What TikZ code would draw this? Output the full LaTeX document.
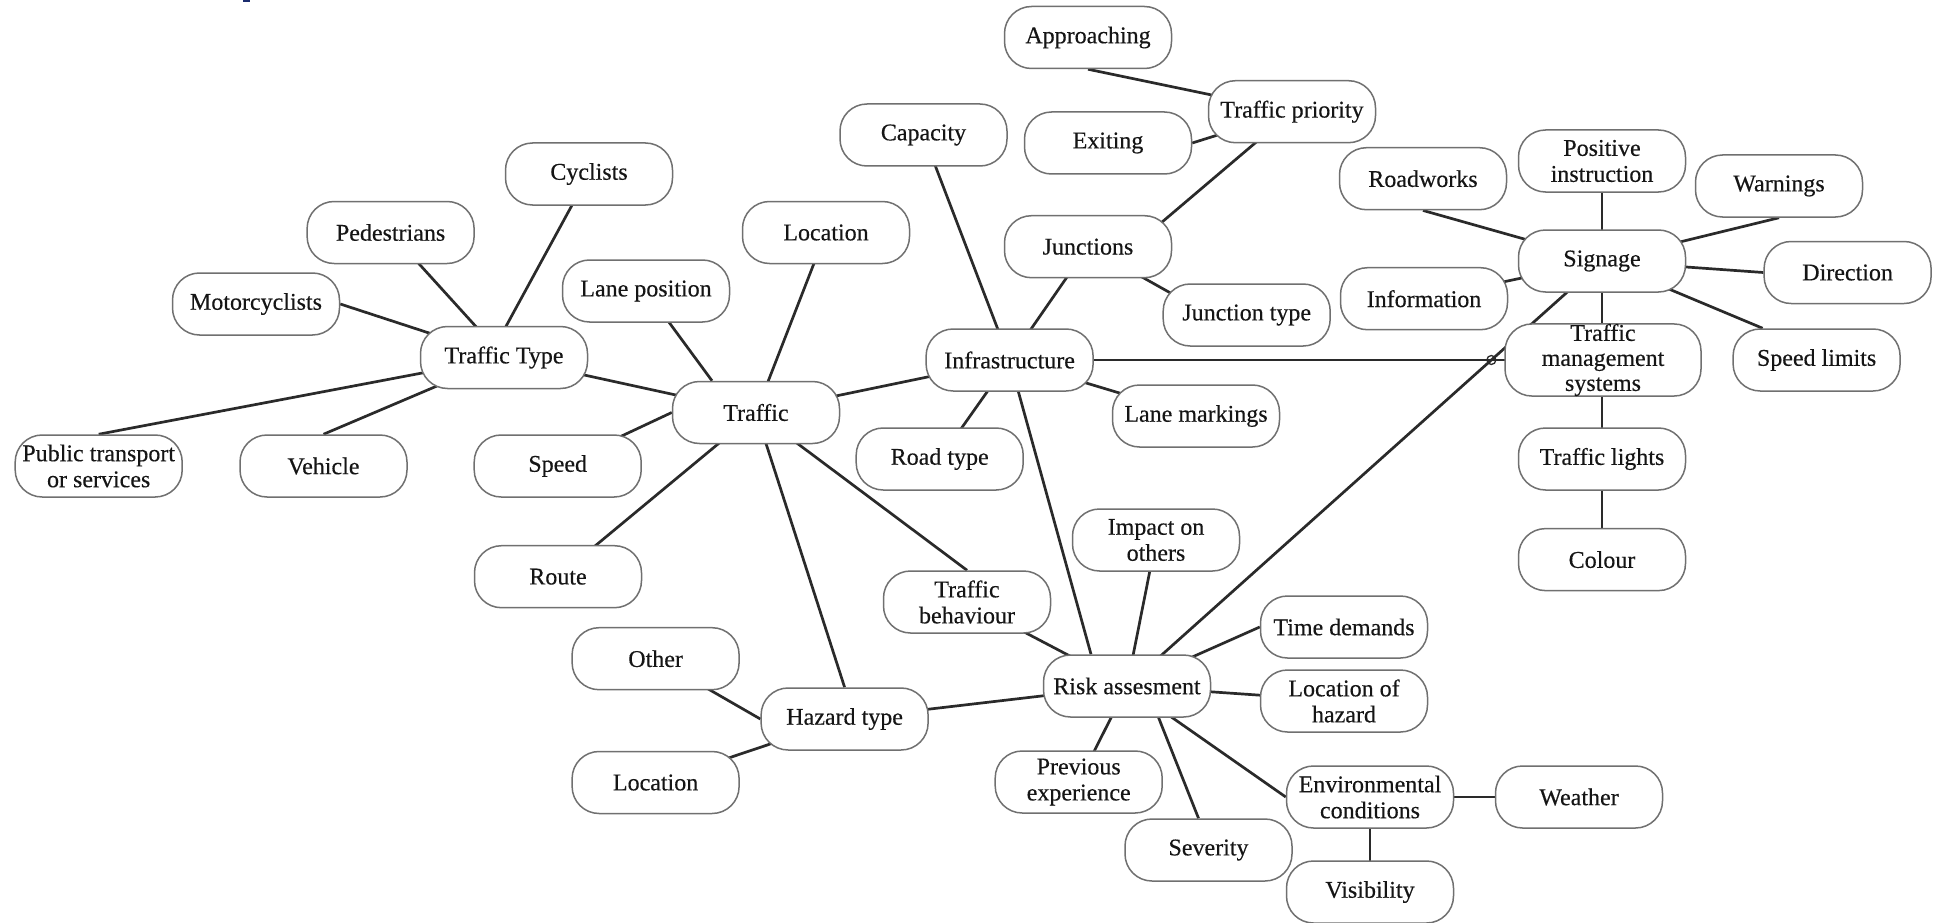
\documentclass[tikz,border=0pt]{standalone}
\usepackage{fontspec}
\setmainfont{Liberation Serif}[FakeBold=0.35]
\usetikzlibrary{intersections}
\pgfdeclarelayer{bg}
\pgfsetlayers{bg,main}
\definecolor{edgecol}{HTML}{2A2A2A}
\definecolor{boxcol}{HTML}{707070}
\definecolor{txtcol}{HTML}{151515}
\definecolor{navyfrag}{HTML}{1B2C6E}
\begin{document}
\begin{tikzpicture}[x=1pt,y=-1pt,
 bub/.style={draw=boxcol,line width=1.5pt,fill=white,rounded corners=27pt,minimum width=167pt,minimum height=62pt,inner sep=0pt,align=center,text=txtcol,font=\fontsize{24}{26}\selectfont},
 link/.style={draw=edgecol,line width=2.7pt}]
\useasboundingbox (0,0) rectangle (1936,923);

% nodes
\node[bub] (appr) at (1088,37.5) {Approaching};
\node[bub] (tp) at (1292,111.7) {Traffic priority};
\node[bub] (exit) at (1108,143) {Exiting};
\node[bub] (cap) at (923.5,135) {Capacity};
\node[bub] (cyc) at (589,174) {Cyclists};
\node[bub] (rw) at (1423,178.7) {Roadworks};
\node[bub] (pos) at (1602,161) {Positive\\instruction};
\node[bub] (warn) at (1779,186) {Warnings};
\node[bub] (ped) at (390.6,232.5) {Pedestrians};
\node[bub] (loca) at (826,232.5) {Location};
\node[bub] (junc) at (1088,246.7) {Junctions};
\node[bub] (sig) at (1602,261) {Signage};
\node[bub] (dir) at (1847.6,272.5) {Direction};
\node[bub] (lanepos) at (646,291) {Lane position};
\node[bub] (mc) at (256,304) {Motorcyclists};
\node[bub] (info) at (1424,298.7) {Information};
\node[bub] (jt) at (1246.7,315) {Junction type};
\node[bub] (tt) at (504,357.5) {Traffic Type};
\node[bub] (infra) at (1009.6,360) {Infrastructure};
\node[bub,minimum width=196pt,font=\fontsize{24}{25}\selectfont] (tms) at (1603,360) {Traffic\\management\\systems};
\node[bub] (spdl) at (1816.6,360) {Speed limits};
\node[bub] (traffic) at (756,412.5) {Traffic};
\node[bub] (lm) at (1196,416) {Lane markings};
\node[bub] (pt) at (98.7,466) {Public transport\\or services};
\node[bub] (veh) at (323.5,466) {Vehicle};
\node[bub] (speed) at (557.7,466) {Speed};
\node[bub] (road) at (939.7,459) {Road type};
\node[bub] (tl) at (1602,459) {Traffic lights};
\node[bub] (imp) at (1156,540) {Impact on\\others};
\node[bub] (route) at (558,576.7) {Route};
\node[bub] (col) at (1602,559.6) {Colour};
\node[bub] (tb) at (967,602) {Traffic\\behaviour};
\node[bub] (td) at (1344,627) {Time demands};
\node[bub] (other) at (655.6,658.7) {Other};
\node[bub] (risk) at (1127,686) {Risk assesment};
\node[bub] (loh) at (1344,701) {Location of\\hazard};
\node[bub] (haz) at (844.6,719) {Hazard type};
\node[bub] (locb) at (655.6,782.5) {Location};
\node[bub] (prev) at (1078.7,782) {Previous\\experience};
\node[bub] (env) at (1370,797) {Environmental\\conditions};
\node[bub] (wea) at (1579,797) {Weather};
\node[bub] (sev) at (1208.5,850) {Severity};
\node[bub] (vis) at (1370,892) {Visibility};

\fill[navyfrag] (243,0) rectangle (250,2);

\begin{pgfonlayer}{bg}
\fill[white] (0,0) rectangle (1936,923);
% traffic type
\draw[link] (cyc.center) -- ([xshift=-15pt]tt.center);
\draw[link] (ped.center) -- (tt.center);
\draw[link] (mc.east) -- (tt.center);
\draw[link] (pt.north) -- (tt.center);
\draw[link] (veh.north) -- (tt.center);
\draw[link] (tt.center) -- (traffic.center);
% traffic
\draw[link] (lanepos.center) -- ([xshift=-44pt]traffic.north);
\draw[link] (loca.center) -- (traffic.center);
\draw[link] (speed.center) -- (traffic.west);
\draw[link] (traffic.center) -- (route.center);
\draw[link] (traffic.center) -- (haz.north);
\draw[link] (traffic.center) -- (tb.north);
\draw[link] (traffic.center) -- (infra.center);
% infrastructure
\draw[link] (cap.center) -- (infra.center);
\draw[link] (junc.center) -- (infra.center);
\draw[link] (road.center) -- (infra.center);
\draw[link] (infra.center) -- (lm.center);
\draw[link, name path=pA] (infra.center) -- (tms.center);
\draw[link] (infra.center) -- ([xshift=-36pt]risk.north);
% junctions
\draw[link] ([xshift=45pt]junc.center) -- (tp.center);
\draw[link] (junc.center) -- ([xshift=-37pt]jt.center);
\draw[link] (appr.south) -- (tp.center);
\draw[link] (exit.east) -- (tp.center);
% signage
\draw[link] (rw.south) -- (sig.center);
\draw[link] (pos.center) -- (sig.center);
\draw[link] (warn.south) -- (sig.center);
\draw[link] (dir.west) -- (sig.center);
\draw[link] (sig.center) -- ([xshift=-54pt]spdl.north);
\draw[link] (info.center) -- (sig.center);
\draw[link] (sig.center) -- (tl.center);
\draw[link] (tl.center) -- (col.center);
\draw[link, name path=pB] (risk.center) -- (sig.center);
% risk
\draw[link] (tb.center) -- (risk.center);
\draw[link] (imp.center) -- (risk.center);
\draw[link] (risk.center) -- (td.west);
\draw[link] (risk.center) -- (loh.center);
\draw[link] (risk.center) -- (env.west);
\draw[link] ([xshift=19pt]risk.center) -- ([xshift=-10pt]sev.north);
\draw[link] (risk.center) -- (prev.center);
\draw[link] (haz.center) -- (risk.center);
% hazard
\draw[link] (other.center) -- (haz.west);
\draw[link] (locb.center) -- (haz.center);
% environment
\draw[link] (env.center) -- (wea.center);
\draw[link] (env.center) -- (vis.center);
% line jump mark
\draw[edgecol, line width=1.3pt, name intersections={of=pA and pB}] (intersection-1) circle (4.5pt);
\end{pgfonlayer}
\end{tikzpicture}
\end{document}
